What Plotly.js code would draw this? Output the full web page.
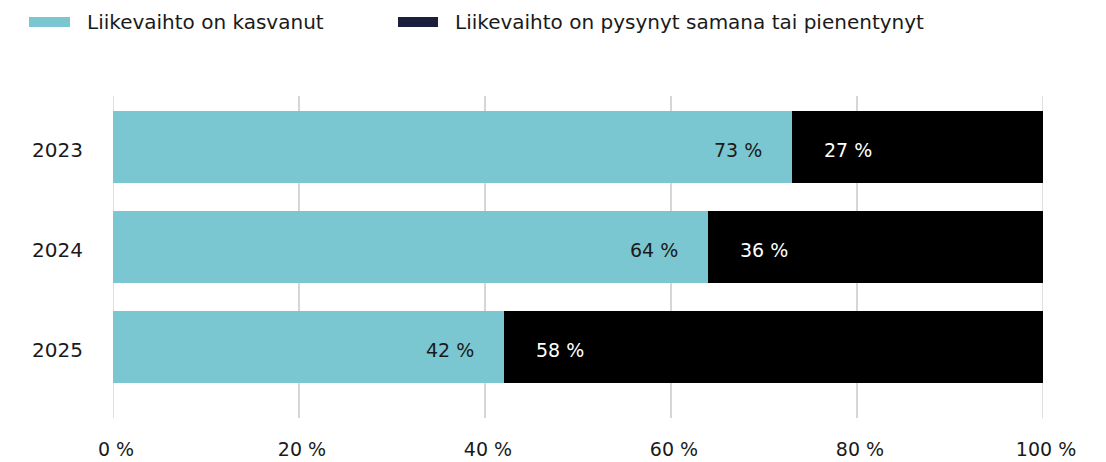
<!DOCTYPE html>
<html>
<head>
<meta charset="utf-8">
<script src="https://cdn.plot.ly/plotly-3.0.1.min.js"></script>
<style>html,body{margin:0;padding:0;background:#fff;}#chart{width:1106px;height:462px;}</style>
</head>
<body>
<div id="chart"></div>
<script>
const years = ['2023', '2024', '2025'];
const grew = [73, 64, 42];
const stayed = [27, 36, 58];
const seriesNames = ['Liikevaihto on kasvanut', 'Liikevaihto on pysynyt samana tai pienentynyt'];
const tickVals = [0, 20, 40, 60, 80, 100];

const FONT = '"DejaVu Sans", sans-serif';
const FS = 19;
const TEAL = '#7AC7D1';
const DARK = '#000000';
const LEGEND_DARK = '#1B1F3B';
const GRID = '#d6d6d6';

const traces = [
  {type: 'bar', orientation: 'h', name: seriesNames[0], y: years, x: grew,
   marker: {color: TEAL}, width: 0.72, hoverinfo: 'none'},
  {type: 'bar', orientation: 'h', name: seriesNames[1], y: years, x: stayed,
   marker: {color: DARK}, width: 0.72, hoverinfo: 'none'}
];

const annotations = [];
years.forEach((yr, i) => {
  annotations.push({x: grew[i], y: i, xref: 'x', yref: 'y', text: grew[i] + ' %',
    showarrow: false, xanchor: 'right', yanchor: 'middle', xshift: -28, yshift: -3,
    font: {family: FONT, size: FS, color: '#1a1a1a'}});
  annotations.push({x: grew[i], y: i, xref: 'x', yref: 'y', text: stayed[i] + ' %',
    showarrow: false, xanchor: 'left', yanchor: 'middle', xshift: 30, yshift: -3,
    font: {family: FONT, size: FS, color: '#ffffff'}});
});
// legend texts
annotations.push({xref: 'paper', yref: 'paper', x: 0, y: 1, xshift: -28, yshift: 74,
  xanchor: 'left', yanchor: 'middle', text: seriesNames[0], showarrow: false,
  font: {family: FONT, size: 20, color: '#1a1a1a'}});
annotations.push({xref: 'paper', yref: 'paper', x: 0, y: 1, xshift: 340, yshift: 74,
  xanchor: 'left', yanchor: 'middle', text: seriesNames[1], showarrow: false,
  font: {family: FONT, size: 20, color: '#1a1a1a'}});

const shapes = [
  {type: 'rect', xref: 'paper', yref: 'paper', xsizemode: 'pixel', ysizemode: 'pixel',
   xanchor: 0, yanchor: 1, x0: -84, x1: -43, y0: 69, y1: 79, fillcolor: TEAL, line: {width: 0}},
  {type: 'rect', xref: 'paper', yref: 'paper', xsizemode: 'pixel', ysizemode: 'pixel',
   xanchor: 0, yanchor: 1, x0: 285, x1: 325, y0: 69, y1: 79, fillcolor: LEGEND_DARK, line: {width: 0}}
];
// edge grid lines (0 % and 100 %) that Plotly skips at the plot border
[tickVals[0], tickVals[tickVals.length - 1]].forEach(v => {
  shapes.push({type: 'line', xref: 'x', yref: 'paper', x0: v, x1: v, y0: 0, y1: 1,
    layer: 'below', line: {color: GRID, width: 1.5}});
});

const layout = {
  width: 1106, height: 462,
  margin: {l: 113, r: 63, t: 96, b: 44},
  barmode: 'stack',
  showlegend: false,
  paper_bgcolor: '#ffffff', plot_bgcolor: '#ffffff',
  font: {family: FONT, size: FS, color: '#1a1a1a'},
  xaxis: {range: [0, 100], tickvals: tickVals, ticktext: tickVals.map(v => v + ' %'),
    showgrid: true, gridcolor: GRID, gridwidth: 1.5, zeroline: false,
    showline: false, ticks: '', ticklabelstandoff: 18, ticklabelshift: 3, fixedrange: true,
    tickfont: {family: FONT, size: FS, color: '#1a1a1a'}},
  yaxis: {type: 'category', range: [2.71, -0.51], showgrid: false, zeroline: false,
    showline: false, ticks: '', ticklabelstandoff: 29, ticklabelshift: -3, fixedrange: true,
    tickfont: {family: FONT, size: 20, color: '#1a1a1a'}},
  annotations: annotations,
  shapes: shapes
};

Plotly.newPlot('chart', traces, layout, {displayModeBar: false, staticPlot: true});
</script>
</body>
</html>
